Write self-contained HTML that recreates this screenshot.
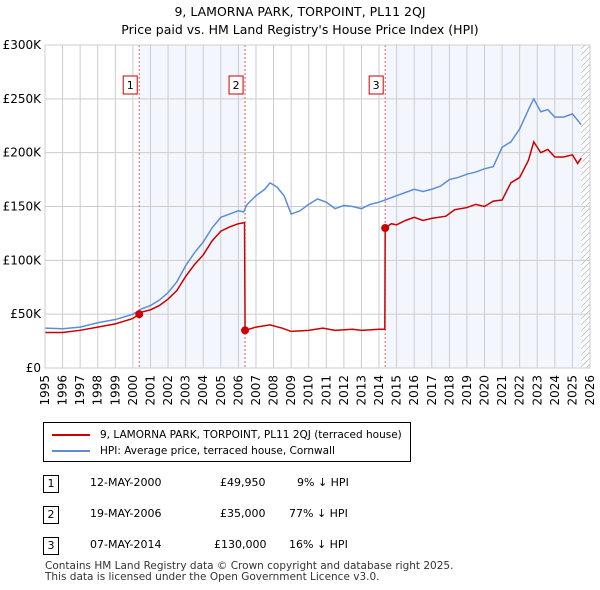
<!DOCTYPE html>
<html><head><meta charset="utf-8"><style>
body{margin:0;width:600px;height:590px;background:#fff;font-family:"DejaVu Sans","Liberation Sans",sans-serif;overflow:hidden;position:relative}
.t{position:absolute;font-size:11px;color:#000}
</style></head><body>
<div style="position:absolute;left:0;width:600px;top:3px;text-align:center;font-size:12.5px;line-height:18px">9, LAMORNA PARK, TORPOINT, PL11 2QJ<br>Price paid vs. HM Land Registry's House Price Index (HPI)</div>
<svg id="c" width="600" height="410" style="position:absolute;left:0;top:0;font-family:'DejaVu Sans',sans-serif"></svg>
<div style="position:absolute;left:43px;top:422px;width:368px;height:40px;border:1px solid #000;box-sizing:border-box">
 <div style="position:absolute;left:8px;top:6px;font-size:10.5px;white-space:nowrap"><span style="display:inline-block;width:38px;height:2px;background:#cc0000;vertical-align:middle;margin-right:10px"></span>9, LAMORNA PARK, TORPOINT, PL11 2QJ (terraced house)</div>
 <div style="position:absolute;left:8px;top:22px;font-size:10.5px;white-space:nowrap"><span style="display:inline-block;width:38px;height:2px;background:#5b8ed6;vertical-align:middle;margin-right:10px"></span>HPI: Average price, terraced house, Cornwall</div>
</div>
<div>
<div class="t" style="left:43px;top:475px"><span style="position:absolute;border:1px solid #000;width:14px;height:16px;text-align:center;line-height:16px">1</span><span style="position:absolute;left:47px;top:1px;white-space:nowrap">12-MAY-2000</span><span style="position:absolute;left:177px;top:1px">£49,950</span><span style="position:absolute;left:254px;top:1px;white-space:nowrap">9% ↓ HPI</span></div>
<div class="t" style="left:43px;top:506px"><span style="position:absolute;border:1px solid #000;width:14px;height:16px;text-align:center;line-height:16px">2</span><span style="position:absolute;left:47px;top:1px;white-space:nowrap">19-MAY-2006</span><span style="position:absolute;left:177px;top:1px">£35,000</span><span style="position:absolute;left:246px;top:1px;white-space:nowrap">77% ↓ HPI</span></div>
<div class="t" style="left:43px;top:537px"><span style="position:absolute;border:1px solid #000;width:14px;height:16px;text-align:center;line-height:16px">3</span><span style="position:absolute;left:47px;top:1px;white-space:nowrap">07-MAY-2014</span><span style="position:absolute;left:171px;top:1px">£130,000</span><span style="position:absolute;left:246px;top:1px;white-space:nowrap">16% ↓ HPI</span></div>
</div>
<div style="position:absolute;left:45px;top:561px;font-size:10.5px;line-height:11px;color:#333">Contains HM Land Registry data © Crown copyright and database right 2025.<br>This data is licensed under the Open Government Licence v3.0.</div>
<script>
const hpiYears=[1995,1996,1997,1998,1999,2000,2000.5,2001,2001.5,2002,2002.5,2003,2003.5,2004,2004.5,2005,2005.5,2006,2006.3,2006.5,2007,2007.5,2007.8,2008.2,2008.6,2009,2009.5,2010,2010.5,2011,2011.5,2012,2012.5,2013,2013.5,2014,2014.5,2015,2015.5,2016,2016.5,2017,2017.5,2018,2018.5,2019,2019.5,2020,2020.5,2021,2021.5,2022,2022.5,2022.8,2023.2,2023.6,2024,2024.5,2025,2025.5];
const hpiValues=[37,36.5,38,42,45,50,55,58,63,70,80,95,107,117,130,140,143,146,145,152,160,166,172,168,160,143,146,152,157,154,148,151,150,148,152,154,157,160,163,166,164,166,169,175,177,180,182,185,187,205,210,222,240,250,238,240,233,233,236,226];
const redYears=[1995,1996,1997,1998,1999,2000,2000.36,2000.5,2001,2001.5,2002,2002.5,2003,2003.5,2004,2004.5,2005,2005.5,2006,2006.35,2006.38,2007,2007.8,2008.5,2009,2010,2010.8,2011.5,2012.5,2013,2014,2014.33,2014.35,2014.7,2015,2015.5,2016,2016.5,2017,2017.8,2018.3,2019,2019.5,2020,2020.5,2021,2021.5,2022,2022.5,2022.8,2023.2,2023.6,2024,2024.5,2025,2025.3,2025.5];
const redValues=[33,33,35,38,41,46,50,52,54,58,64,72,85,96,105,118,127,131,134,135,35,38,40,37,34,35,37,35,36,35,36,36,130,134,133,137,140,137,139,141,147,149,152,150,155,156,172,177,193,210,200,203,196,196,198,190,195];
const saleYears=[2000.36,2006.38,2014.35];
const saleValues=[49.95,35,130];
const saleLabels=["1","2","3"];
const yTicks=[0,50,100,150,200,250,300];
const yTickLabels=["£0","£50K","£100K","£150K","£200K","£250K","£300K"];
const xTicks=[];for(let y=1995;y<=2026;y++)xTicks.push(y);
const L=45,R=590,T=45,B=368,x0=1995,x1=2026;
const X=v=>L+(v-x0)/(x1-x0)*(R-L), Y=v=>B-v/300*(B-T);
const s=document.getElementById('c'),NS='http://www.w3.org/2000/svg';
function mk(t,a,p){const e=document.createElementNS(NS,t);for(const k in a)e.setAttribute(k,a[k]);(p||s).appendChild(e);return e;}
let e;
e=mk('rect',{x:X(saleYears[0]),y:T,width:X(saleYears[1])-X(saleYears[0]),height:B-T,fill:'#eef3fc',opacity:0.7});


e=mk('rect',{x:X(saleYears[2]),y:T,width:X(2025.5)-X(saleYears[2]),height:B-T,fill:'#eef3fc',opacity:0.7});


const d=mk('defs',{});const pt=mk('pattern',{id:'h',width:6,height:6,patternUnits:'userSpaceOnUse'},d);
mk('path',{d:'M0,6L6,0',stroke:'#bbb','stroke-width':0.8},pt);
e=mk('rect',{x:X(2025.5),y:T,width:R-X(2025.5),height:B-T,fill:'url(#h)'});


xTicks.forEach(v=>{e=mk('line',{x1:X(v),x2:X(v),y1:T,y2:B,stroke:'#ccc','stroke-width':1});


e=mk('text',{x:0,y:0,'font-size':12,'text-anchor':'end',transform:'translate('+(X(v)+4)+',375) rotate(-90)'});e.textContent=v;

});
yTicks.forEach((v,i)=>{e=mk('line',{x1:L,x2:R,y1:Y(v),y2:Y(v),stroke:'#ccc','stroke-width':1});


e=mk('text',{x:L-4,y:Y(v)+4,'font-size':12,'text-anchor':'end'});e.textContent=yTickLabels[i];

});
saleYears.forEach((v,i)=>{e=mk('line',{x1:X(v),x2:X(v),y1:T,y2:B,stroke:'#e06060','stroke-dasharray':'2,2','stroke-width':1});


const g=mk('g',{});


mk('rect',{x:X(v)-16,y:76,width:14,height:18,fill:'#fff',stroke:'#cc0000'},g);
const tx=mk('text',{x:X(v)-9,y:89,'font-size':11,'text-anchor':'middle'},g);tx.textContent=saleLabels[i];});
function line(xs,ys,c,n){e=mk('polyline',{points:xs.map((v,i)=>X(v)+','+Y(ys[i])).join(' '),fill:'none',stroke:c,'stroke-width':1.5});

}
line(hpiYears,hpiValues,'#5b8ed6','hpi-line');
line(redYears,redValues,'#cc0000','property-line');
saleYears.forEach((v,i)=>{e=mk('circle',{cx:X(v),cy:Y(saleValues[i]),r:4,fill:'#cc0000'});

});
e=mk('rect',{x:L,y:T,width:R-L,height:B-T,fill:'none',stroke:'#ccc'});


</script>
</body></html>
